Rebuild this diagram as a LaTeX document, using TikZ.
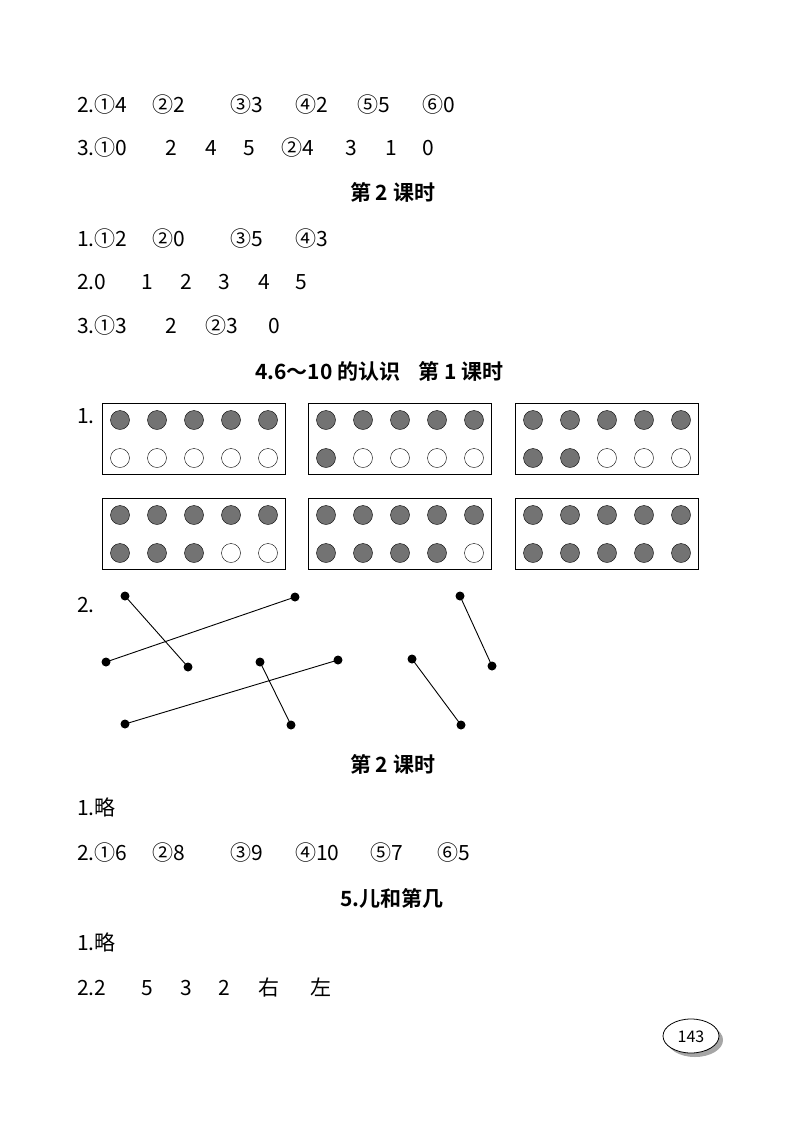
\documentclass[tikz,border=0pt]{standalone}
\usepackage{fontspec}
\setmainfont{Noto Sans CJK SC}
\newfontfamily\hb{Noto Sans CJK SC Bold}
\begin{document}
\begin{tikzpicture}[x=1pt,y=-1pt,
  tx/.style={anchor=base west,inner sep=0pt,font=\fontsize{21}{24}\selectfont},
  hd/.style={anchor=base west,inner sep=0pt,font=\hb\fontsize{21}{24}\selectfont},
  fdot/.style={circle,draw,fill=gray!90!black,minimum size=19pt,inner sep=0pt},
  edot/.style={circle,draw,fill=white,minimum size=19pt,inner sep=0pt},
  pt/.style={circle,fill=black,minimum size=9pt,inner sep=0pt}]
\useasboundingbox (0,0) rectangle (800,1133);
\newcommand\tk[3]{\node[tx] at (#1,#2) {#3};}
% line 1
\foreach \x/\t [count=\i] in {77/2.①4,152/②2,230/③3,295/④2,357/⑤5,422/⑥0}{\node[tx] (a\i) at (\x,112) {\t};}
\foreach \x/\t [count=\i] in {77/3.①0,165/2,205/4,243/5,281/②4,345/3,385/1,422/0}{\node[tx] (b\i) at (\x,155) {\t};}
\node[hd] (h1) at (350,200) {第 2 课时};
\foreach \x/\t [count=\i] in {77/1.①2,152/②0,230/③5,295/④3}{\node[tx] (c\i) at (\x,246) {\t};}
\foreach \x/\t [count=\i] in {77/2.0,141/1,180/2,218/3,258/4,295/5}{\node[tx] (d\i) at (\x,289) {\t};}
\foreach \x/\t [count=\i] in {77/3.①3,165/2,205/②3,268/0}{\node[tx] (e\i) at (\x,333) {\t};}
\node[hd] (h2) at (255,379) {4.6～10 的认识\hspace{18pt}第 1 课时};
\node[tx] (f1) at (77,423) {1.};
% boxes
\foreach \bx/\by/\nf [count=\k] in {102/403/5,308/403/6,515/403/7,102/498/8,308/498/9,515/498/10}{
  \draw[line width=1pt] (\bx,\by) rectangle ++(183,71);
  \foreach \j in {0,...,9}{
    \pgfmathtruncatemacro\col{mod(\j,5)}
    \pgfmathtruncatemacro\row{\j/5}
    \ifnum\j<\nf
      \node[fdot] (k\k-\j) at (\bx+18+37*\col,\by+17+38*\row) {};
    \else
      \node[edot] (k\k-\j) at (\bx+18+37*\col,\by+17+38*\row) {};
    \fi
  }
}
\node[tx] (g1) at (77,612) {2.};
\node[pt] (p1) at (125,596) {}; \node[pt] (p2) at (188,667) {};
\node[pt] (p3) at (106,662) {}; \node[pt] (p4) at (295,597) {};
\node[pt] (p5) at (260,662) {}; \node[pt] (p6) at (291,725) {};
\node[pt] (p7) at (125,724) {}; \node[pt] (p8) at (338,660) {};
\node[pt] (p9) at (460,596) {}; \node[pt] (p10) at (492,666) {};
\node[pt] (p11) at (412,659) {}; \node[pt] (p12) at (461,725) {};
\foreach \a/\b in {p1/p2,p3/p4,p5/p6,p7/p8,p9/p10,p11/p12}{\draw[line width=0.9pt] (\a.center) -- (\b.center);}
\node[hd] (h3) at (350,772) {第 2 课时};
\node[tx] (m1) at (77,815) {1.略};
\foreach \x/\t [count=\i] in {77/2.①6,152/②8,230/③9,295/④10,370/⑤7,437/⑥5}{\node[tx] (n\i) at (\x,860) {\t};}
\node[hd] (h4) at (340,906) {5.儿和第几};
\node[tx] (q1) at (77,950) {1.略};
\foreach \x/\t [count=\i] in {77/2.2,141/5,180/3,218/2,258/右,310/左}{\node[tx] (r\i) at (\x,995) {\t};}
% page number
\fill[gray!70] (695,1040) ellipse (28 and 17);
\draw[fill=white,line width=0.8pt] (691,1036) ellipse (28 and 17);
\node[inner sep=0pt,font=\fontsize{16}{18}\selectfont] (pg) at (691,1037) {143};
\end{tikzpicture}
\end{document}
